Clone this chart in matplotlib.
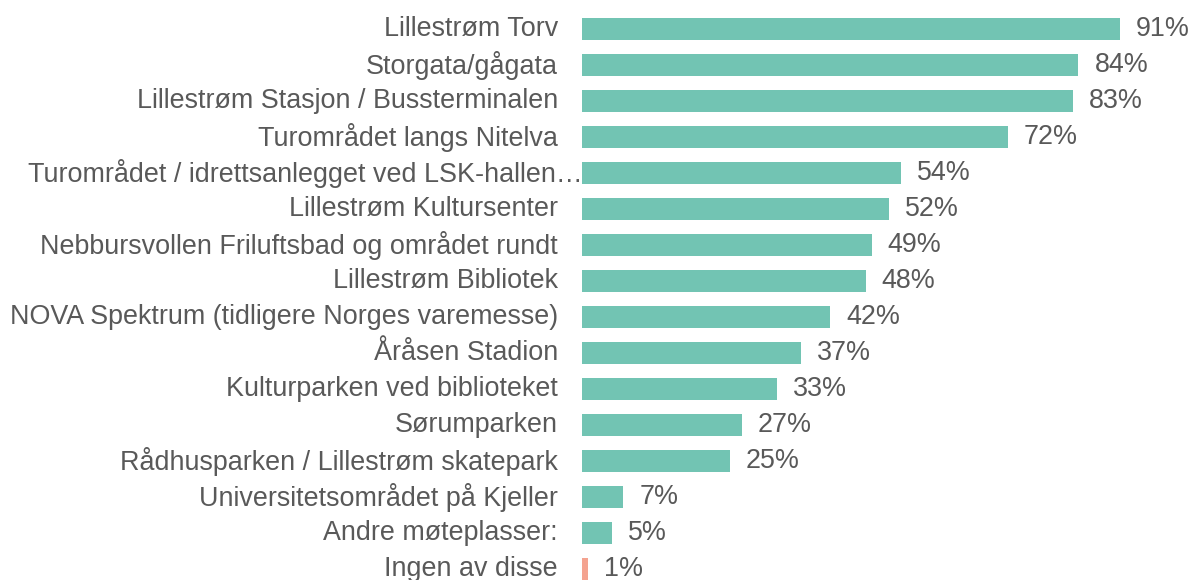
import matplotlib
matplotlib.use("Agg")
import matplotlib.pyplot as plt
from matplotlib.transforms import offset_copy

plt.rcParams['font.family'] = ['Liberation Sans', 'DejaVu Sans']

places = [
    "Lillestrøm Torv",
    "Storgata/gågata",
    "Lillestrøm Stasjon / Bussterminalen",
    "Turområdet langs Nitelva",
    "Turområdet / idrettsanlegget ved LSK-hallen…",
    "Lillestrøm Kultursenter",
    "Nebbursvollen Friluftsbad og området rundt",
    "Lillestrøm Bibliotek",
    "NOVA Spektrum (tidligere Norges varemesse)",
    "Åråsen Stadion",
    "Kulturparken ved biblioteket",
    "Sørumparken",
    "Rådhusparken / Lillestrøm skatepark",
    "Universitetsområdet på Kjeller",
    "Andre møteplasser:",
    "Ingen av disse",
]
shares = [91, 84, 83, 72, 54, 52, 49, 48, 42, 37, 33, 27, 25, 7, 5, 1]

teal = "#72C4B3"
salmon = "#F4A390"
text_color = "#595959"
colors = [teal] * (len(shares) - 1) + [salmon]

fig = plt.figure(figsize=(11.9, 5.8), dpi=100)
ax = fig.add_axes([582 / 1190, 0, 1 - 582 / 1190, 1])

ypos = list(range(len(places)))
ax.barh(ypos, shares, height=0.59, color=colors)

ax.set_xlim(0, 608 / 5.91)
ax.set_ylim((580 - 29) / 36, -29 / 36)
ax.axis('off')

fs = 19.4
for y, name, v in zip(ypos, places, shares):
    # category names right-aligned left of the bars
    shift = 1 if name.endswith("…") else -24
    tr = offset_copy(ax.transData, fig=fig, x=shift, y=0, units='dots')
    ax.text(0, y, name, transform=tr, ha='right', va='center',
            fontsize=fs, color=text_color, clip_on=False)
    # value labels right of the bars
    tr2 = offset_copy(ax.transData, fig=fig, x=16, y=0, units='dots')
    ax.text(v, y, f"{v}%", transform=tr2, ha='left', va='center',
            fontsize=fs, color=text_color, clip_on=False)

fig.savefig("out.png", dpi=100)
